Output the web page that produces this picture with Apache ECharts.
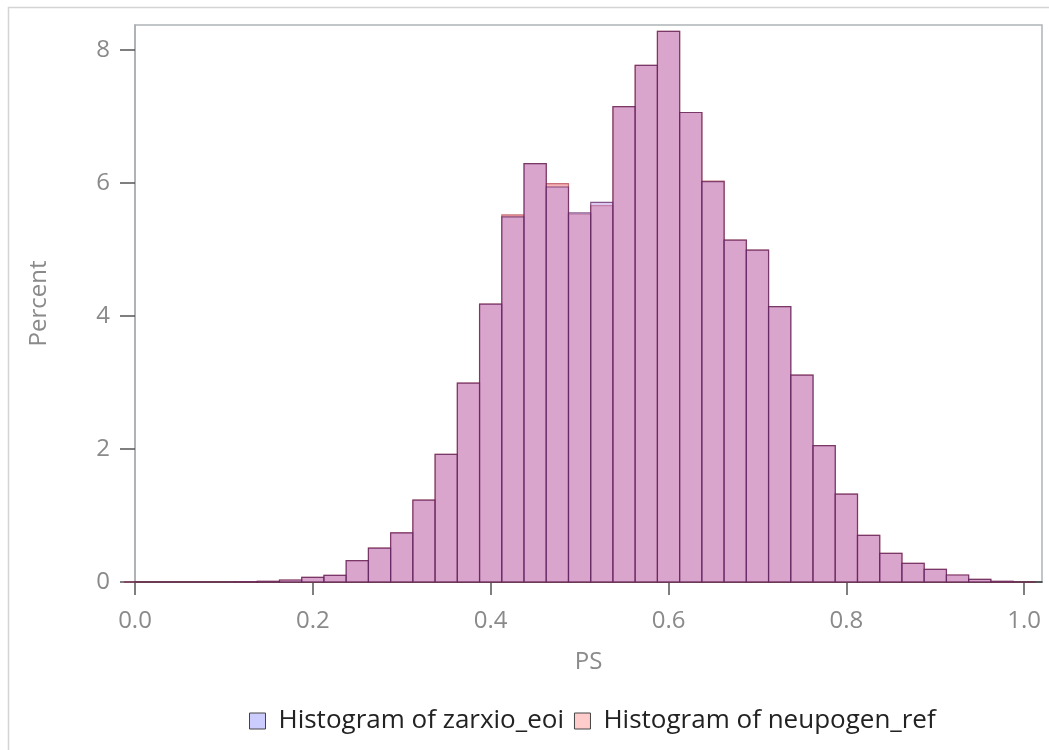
<!DOCTYPE html>
<html>
<head>
<meta charset="utf-8">
<script src="https://cdn.jsdelivr.net/npm/echarts@6/dist/echarts.min.js"></script>
<style>
html,body{margin:0;padding:0;background:#fff;}
#chart{width:1049px;height:750px;}
</style>
</head>
<body>
<div id="chart"></div>
<script>
// Bin centers (PS), bin width 0.025
const binCenters = [0.000,0.025,0.050,0.075,0.100,0.125,0.150,0.175,0.200,0.225,0.250,0.275,0.300,0.325,0.350,0.375,0.400,0.425,0.450,0.475,0.500,0.525,0.550,0.575,0.600,0.625,0.650,0.675,0.700,0.725,0.750,0.775,0.800,0.825,0.850,0.875,0.900,0.925,0.950,0.975,1.000];
const binWidth = 0.025;
// Percent per bin
const zarxioEoi = [0,0,0,0,0,0.005,0.01,0.03,0.07,0.10,0.32,0.51,0.74,1.23,1.92,2.99,4.18,5.49,6.29,5.94,5.55,5.71,7.15,7.77,8.28,7.06,6.02,5.14,4.99,4.14,3.11,2.05,1.32,0.70,0.43,0.28,0.19,0.105,0.04,0.01,0];
const neupogenRef = [0,0,0,0,0,0.005,0.01,0.03,0.07,0.10,0.32,0.51,0.74,1.23,1.92,2.99,4.18,5.52,6.29,5.99,5.53,5.66,7.15,7.77,8.28,7.06,6.03,5.14,4.99,4.14,3.11,2.05,1.32,0.70,0.43,0.28,0.19,0.105,0.04,0.01,0];
const xTicks = [0,0.2,0.4,0.6,0.8,1.0];
const yTicks = [0,2,4,6,8];
const seriesNames = ['Histogram of zarxio_eoi','Histogram of neupogen_ref'];

const chart = echarts.init(document.getElementById('chart'), null, {renderer:'canvas'});
const FONT = 'Open Sans';

function makeRender(fill, stroke){
  return function(params, api){
    const x = api.value(0), v = api.value(1);
    const p0 = api.coord([x - binWidth/2, v]);
    const p1 = api.coord([x + binWidth/2, 0]);
    return {
      type:'rect',
      shape:{x:p0[0], y:p0[1], width:p1[0]-p0[0], height:p1[1]-p0[1]},
      style:{fill:fill, stroke:stroke, lineWidth:1.2}
    };
  };
}

const option = {
  animation:false,
  backgroundColor:'#fff',
  textStyle:{fontFamily:FONT},
  graphic:[{
    type:'rect', z:-10,
    shape:{x:8.5,y:7.5,width:1045,height:770},
    style:{fill:'none',stroke:'#d4d4d4',lineWidth:1.5}
  }],
  grid:{left:135,top:25,right:7,bottom:168,show:true,borderColor:'#b0b4b8',borderWidth:1.5,backgroundColor:'transparent'},
  legend:{
    left:244, top:703,
    icon:'rect', itemWidth:16, itemHeight:16, itemGap:10,
    textStyle:{fontFamily:FONT,fontSize:26,color:'#222',padding:[0,0,0,8]},
    data:[
      {name:seriesNames[0], itemStyle:{color:'#ccccff',borderColor:'#444',borderWidth:1}},
      {name:seriesNames[1], itemStyle:{color:'#ffcccc',borderColor:'#444',borderWidth:1}}
    ]
  },
  xAxis:{
    type:'value', min:0, max:1.02,
    name:'PS', nameLocation:'middle', nameGap:68,
    nameTextStyle:{fontFamily:FONT,fontSize:24,color:'#8a8a8a'},
    axisLine:{show:true,lineStyle:{color:'#333',width:1.5}},
    axisTick:{show:true,length:13,customValues:xTicks,lineStyle:{color:'#555',width:1.5}},
    axisLabel:{customValues:xTicks,margin:27,fontFamily:FONT,fontSize:24,color:'#8a8a8a',
      formatter:v=>v.toFixed(1)},
    splitLine:{show:false}
  },
  yAxis:{
    type:'value', min:0, max:8.376,
    name:'Percent', nameLocation:'middle', nameGap:84, nameRotate:90,
    nameTextStyle:{fontFamily:FONT,fontSize:24,color:'#8a8a8a'},
    axisLine:{show:true,lineStyle:{color:'#a8acb0',width:1.5}},
    axisTick:{show:true,length:15,customValues:yTicks,lineStyle:{color:'#555',width:1.5}},
    axisLabel:{customValues:yTicks,margin:25,fontFamily:FONT,fontSize:24,color:'#8a8a8a'},
    splitLine:{show:false}
  },
  series:[
    {
      name:seriesNames[1], type:'custom',
      renderItem:makeRender('rgba(235,105,115,0.5)','rgba(180,60,70,0.7)'),
      encode:{x:0,y:1},
      data:binCenters.map((c,i)=>[c,neupogenRef[i]]),
      z:2
    },
    {
      name:seriesNames[0], type:'custom',
      renderItem:makeRender('rgba(189,150,225,0.5)','rgba(90,30,90,0.7)'),
      encode:{x:0,y:1},
      data:binCenters.map((c,i)=>[c,zarxioEoi[i]]),
      z:3
    }
  ]
};
chart.setOption(option);
</script>
</body>
</html>
